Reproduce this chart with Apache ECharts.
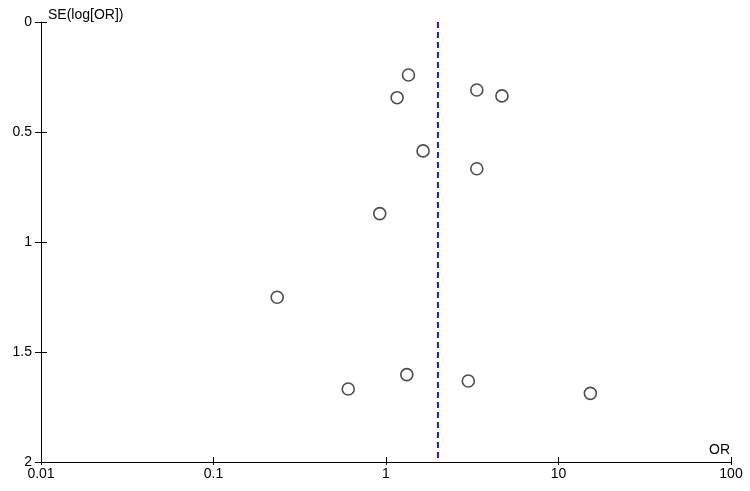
<!DOCTYPE html>
<html>
<head>
<meta charset="utf-8">
<script src="https://cdn.jsdelivr.net/npm/echarts@6/dist/echarts.min.js"></script>
<style>html,body{margin:0;padding:0;background:#fff}#c{width:750px;height:491px}</style>
</head>
<body>
<div id="c"></div>
<script>
// Study odds ratios and standard errors of log(OR)
const studyOR = [1.35, 1.16, 3.36, 4.70, 1.64, 3.36, 0.92, 0.234, 0.604, 1.32, 3.0, 15.3];
const studySE = [0.241, 0.344, 0.309, 0.336, 0.586, 0.667, 0.871, 1.251, 1.668, 1.603, 1.632, 1.688];
const pooledOR = 2.0;
const xTickLabels = ['0.01', '0.1', '1', '10', '100'];
const yTickLabels = ['0', '0.5', '1', '1.5', '2'];

const FONT = 'Liberation Sans, Arial, sans-serif';
const points = studyOR.map((v, i) => [v, studySE[i]]);
const refLine = [[pooledOR, 0], [pooledOR, 2]];

const xBase = {
  type: 'log', logBase: 10, min: 0.01, max: 100, position: 'bottom', offset: 0,
  splitLine: { show: false }, minorTick: { show: false }
};
const yBase = {
  type: 'value', min: 0, max: 2, interval: 0.5, inverse: true, position: 'left', offset: 0,
  splitLine: { show: false }
};

const chart = echarts.init(document.getElementById('c'), null, { renderer: 'canvas' });
chart.setOption({
  animation: false,
  backgroundColor: '#ffffff',
  grid: { left: 41, right: 19, top: 22, bottom: 29, containLabel: false },
  xAxis: [
    Object.assign({}, xBase, {
      name: 'OR', nameLocation: 'end', nameGap: -1,
      nameTextStyle: { fontFamily: FONT, fontSize: 14, color: '#000', align: 'right', verticalAlign: 'bottom', padding: [0, 0, 5, 0] },
      axisLine: { show: true, onZero: false, lineStyle: { color: '#000', width: 1 } },
      axisTick: { show: true, inside: false, length: 3, lineStyle: { color: '#000' } },
      axisLabel: {
        show: true, margin: 5, fontFamily: FONT, fontSize: 14, color: '#000',
        formatter: v => { const i = Math.round(Math.log10(v)) + 2; return xTickLabels[i] !== undefined ? xTickLabels[i] : ''; }
      }
    }),
    Object.assign({}, xBase, {
      axisLine: { show: false, onZero: false },
      axisTick: { show: true, inside: true, length: 5, lineStyle: { color: '#000' } },
      axisLabel: { show: false }
    })
  ],
  yAxis: [
    Object.assign({}, yBase, {
      name: 'SE(log[OR])', nameLocation: 'start', nameGap: 4,
      nameTextStyle: { fontFamily: FONT, fontSize: 14, color: '#000', align: 'left', verticalAlign: 'bottom', padding: [0, 0, -4, 7] },
      axisLine: { show: true, onZero: false, lineStyle: { color: '#000', width: 1 } },
      axisTick: { show: true, inside: false, length: 6, lineStyle: { color: '#000' } },
      axisLabel: {
        show: true, margin: 9, fontFamily: FONT, fontSize: 14, color: '#000',
        formatter: v => { const i = Math.round(v / 0.5); return yTickLabels[i] !== undefined ? yTickLabels[i] : ''; }
      }
    }),
    Object.assign({}, yBase, {
      axisLine: { show: false, onZero: false },
      axisTick: { show: true, inside: true, length: 6, lineStyle: { color: '#000' } },
      axisLabel: { show: false }
    })
  ],
  series: [
    {
      type: 'line', xAxisIndex: 0, yAxisIndex: 0,
      data: refLine, symbol: 'none', silent: true,
      lineStyle: { color: '#1a1acc', width: 2, type: [6, 4] }
    },
    {
      type: 'scatter', xAxisIndex: 0, yAxisIndex: 0,
      data: points, symbol: 'circle', symbolSize: 12,
      itemStyle: { color: '#ffffff', borderColor: '#222222', borderWidth: 1.6 }
    }
  ]
});
</script>
</body>
</html>
